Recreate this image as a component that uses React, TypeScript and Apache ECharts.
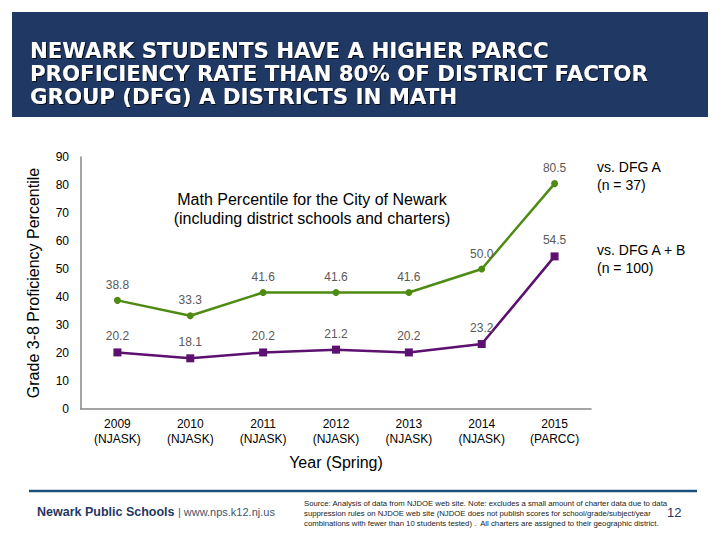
import React, { useEffect, useRef } from "react";
import * as echarts from "echarts";

const years = ["2009\n(NJASK)", "2010\n(NJASK)", "2011\n(NJASK)", "2012\n(NJASK)", "2013\n(NJASK)", "2014\n(NJASK)", "2015\n(PARCC)"];
const dfgA = [38.8, 33.3, 41.6, 41.6, 41.6, 50.0, 80.5];
const dfgAB = [20.2, 18.1, 20.2, 21.2, 20.2, 23.2, 54.5];
const yTicks = { min: 0, max: 90, interval: 10 };

const titleLines = [
  "NEWARK STUDENTS HAVE A HIGHER PARCC",
  "PROFICIENCY RATE THAN 80% OF DISTRICT FACTOR",
  "GROUP (DFG) A DISTRICTS IN MATH",
];
const plotTitleLines = [
  "Math Percentile for the City of Newark",
  "(including district schools and charters)",
];
const sourceLines = [
  "Source: Analysis of data from NJDOE web site. Note: excludes a small amount of charter data due to data",
  "suppression rules on NJDOE web site (NJDOE does not publish scores for school/grade/subject/year",
  "combinations with fewer than 10 students tested) .  All charters are assigned to their geographic district.",
];

const FONT = "'Liberation Sans', Arial, sans-serif";
const GREEN = "#4E8B12";
const PURPLE = "#5C1070";
const NAVY = "#1F3864";

export default function App() {
  const ref = useRef<HTMLDivElement>(null);
  useEffect(() => {
    if (!ref.current) return;
    const chart = echarts.init(ref.current, undefined, { renderer: "svg" });
    const graphics: any[] = [
      { type: "rect", shape: { x: 12, y: 12, width: 696, height: 105 }, style: { fill: NAVY } },
      ...titleLines.map((t, i) => ({
        type: "text",
        x: 30,
        y: 50 + i * 23,
        style: {
          text: t,
          fill: "#fff",
          font: "bold 21.3px 'DejaVu Sans', sans-serif",
          textVerticalAlign: "middle",
          textShadowColor: "rgba(0,0,0,0.8)",
          textShadowOffsetX: 1,
          textShadowOffsetY: 1,
          textShadowBlur: 1,
        },
      })),
      ...plotTitleLines.map((t, i) => ({
        type: "text",
        x: 312,
        y: 199 + i * 19,
        style: { text: t, fill: "#000", font: `16px ${FONT}`, textAlign: "center", textVerticalAlign: "middle" },
      })),
      ...[
        ["vs. DFG A", 167],
        ["(n = 37)", 185],
        ["vs. DFG A + B", 250],
        ["(n = 100)", 268],
      ].map(([t, y]) => ({
        type: "text",
        x: 597,
        y: y as number,
        style: { text: t as string, fill: "#000", font: `14px ${FONT}`, textVerticalAlign: "middle" },
      })),
      { type: "line", shape: { x1: 29, y1: 491, x2: 697, y2: 491 }, style: { stroke: "#1F4E79", lineWidth: 2.5 } },
      {
        type: "text",
        x: 37,
        y: 512,
        style: {
          text: "{b|Newark Public Schools} {n|| www.nps.k12.nj.us}",
          textVerticalAlign: "middle",
          rich: {
            b: { font: `bold 12.5px ${FONT}`, fill: NAVY },
            n: { font: `11px ${FONT}`, fill: "#44546A" },
          },
        },
      },
      ...sourceLines.map((t, i) => ({
        type: "text",
        x: 304,
        y: 503 + i * 10,
        style: { text: t, fill: "#222", font: `7.75px ${FONT}`, textVerticalAlign: "middle" },
      })),
      {
        type: "text",
        x: 667,
        y: 512,
        style: { text: "12", fill: NAVY, font: `13px ${FONT}`, textVerticalAlign: "middle" },
      },
    ];

    const labelCfg = {
      show: true,
      position: "top",
      distance: 6,
      color: "#595959",
      fontSize: 12,
      fontFamily: FONT,
      formatter: (p: any) => Number(p.value).toFixed(1),
    };

    chart.setOption({
      animation: false,
      backgroundColor: "#fff",
      textStyle: { fontFamily: FONT },
      grid: { left: 81, right: 129, top: 157, bottom: 131 },
      xAxis: {
        type: "category",
        data: years,
        boundaryGap: true,
        axisLine: { lineStyle: { color: "#868686", width: 1.5 } },
        axisTick: { show: false },
        axisLabel: { color: "#000", fontSize: 12, lineHeight: 15, margin: 7, fontFamily: FONT },
        name: "Year (Spring)",
        nameLocation: "middle",
        nameGap: 45,
        nameTextStyle: { color: "#000", fontSize: 16, fontFamily: FONT },
      },
      yAxis: {
        type: "value",
        min: yTicks.min,
        max: yTicks.max,
        interval: yTicks.interval,
        axisLine: { show: true, lineStyle: { color: "#868686", width: 1.5 } },
        axisTick: { show: false },
        splitLine: { show: false },
        axisLabel: { color: "#000", fontSize: 12, margin: 12, fontFamily: FONT },
        name: "Grade 3-8 Proficiency Percentile",
        nameLocation: "middle",
        nameGap: 40,
        nameRotate: 90,
        nameTextStyle: { color: "#000", fontSize: 16, fontFamily: FONT },
      },
      series: [
        {
          name: "vs. DFG A",
          type: "line",
          data: dfgA,
          symbol: "circle",
          symbolSize: 7,
          lineStyle: { color: GREEN, width: 2.5 },
          itemStyle: { color: GREEN },
          label: labelCfg,
        },
        {
          name: "vs. DFG A + B",
          type: "line",
          data: dfgAB,
          symbol: "rect",
          symbolSize: 8,
          lineStyle: { color: PURPLE, width: 2.5 },
          itemStyle: { color: PURPLE },
          label: labelCfg,
        },
      ],
      graphic: graphics,
    });
    return () => chart.dispose();
  }, []);
  return <div ref={ref} style={{ position: "absolute", left: 0, top: 0, width: 720, height: 540 }} />;
}
